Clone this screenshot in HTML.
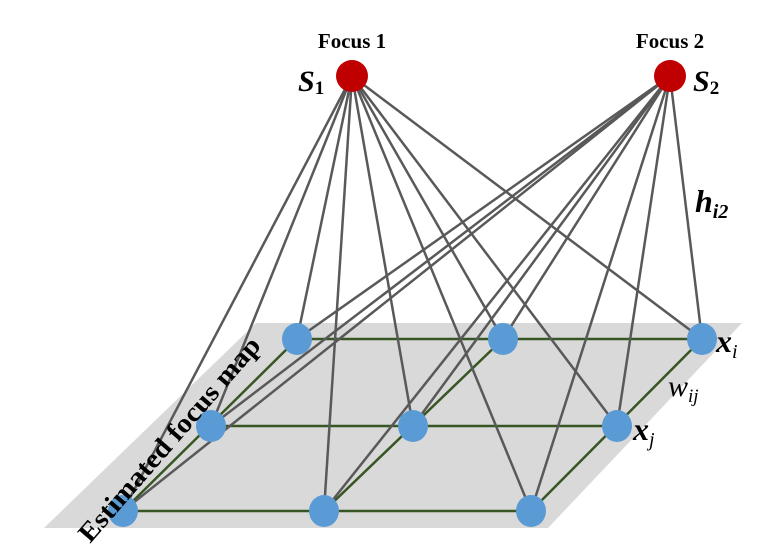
<!DOCTYPE html>
<html><head><meta charset="utf-8"><style>
body{margin:0;background:#fff;}
text{font-family:"Liberation Serif",serif;fill:#000;}
</style></head><body>
<svg width="769" height="552" viewBox="0 0 769 552">
<polygon points="44,528 548,528 742,323 256,323" fill="#d9d9d9"/>
<g id="grid" stroke="#375623" stroke-width="2.5"></g>
<g id="edges" stroke="#595959" stroke-width="2.5"></g>
<g id="nodes"></g>
<text x="0" y="0" font-size="27" font-weight="bold" textLength="262" lengthAdjust="spacingAndGlyphs" transform="translate(90,544) rotate(-49)">Estimated focus map</text>
<text x="352" y="48" font-size="21" font-weight="bold" text-anchor="middle">Focus 1</text>
<text x="670" y="48" font-size="21" font-weight="bold" text-anchor="middle">Focus 2</text>
<text x="298" y="91" font-size="30" font-weight="bold" font-style="italic">S<tspan font-size="19" font-style="normal" dy="3">1</tspan></text>
<text x="693" y="91" font-size="30" font-weight="bold" font-style="italic">S<tspan font-size="19" font-style="normal" dy="3">2</tspan></text>
<text x="695" y="212" font-size="32" font-weight="bold" font-style="italic">h<tspan font-size="20" dy="6">i2</tspan></text>
<text x="716" y="352" font-size="32" font-weight="bold" font-style="italic">x<tspan font-size="20" font-weight="normal" dy="6">i</tspan></text>
<text x="633" y="440" font-size="32" font-weight="bold" font-style="italic">x<tspan font-size="20" font-weight="normal" dy="6">j</tspan></text>
<text x="668" y="396" font-size="30" font-style="italic">w<tspan font-size="19" dy="6">ij</tspan></text>
</svg>
<script>
const rowY=[339,426,511];
const rowX=[[297,503,702],[211,413,617],[123,324,531]];
const foci=[[352,76],[670,76]];
const NS='http://www.w3.org/2000/svg';
const grid=document.getElementById('grid'),edges=document.getElementById('edges'),nodes=document.getElementById('nodes');
function ln(g,x1,y1,x2,y2,name){const l=document.createElementNS(NS,'line');l.setAttribute('x1',x1);l.setAttribute('y1',y1);l.setAttribute('x2',x2);l.setAttribute('y2',y2);


g.appendChild(l);}
for(let r=0;r<3;r++){ln(grid,rowX[r][0],rowY[r],rowX[r][2],rowY[r],'grid-row-line');}
for(let c=0;c<3;c++){ln(grid,rowX[0][c],rowY[0],rowX[2][c],rowY[2],'grid-column-line');}
foci.forEach(f=>{for(let r=0;r<3;r++)for(let c=0;c<3;c++)ln(edges,f[0],f[1],rowX[r][c],rowY[r],'focus-edge');});
for(let r=0;r<3;r++)for(let c=0;c<3;c++){const e=document.createElementNS(NS,'ellipse');e.setAttribute('cx',rowX[r][c]);e.setAttribute('cy',rowY[r]);e.setAttribute('rx',15);e.setAttribute('ry',16);e.setAttribute('fill','#5b9bd5');


nodes.appendChild(e);}
foci.forEach(f=>{const c=document.createElementNS(NS,'circle');c.setAttribute('cx',f[0]);c.setAttribute('cy',f[1]);c.setAttribute('r',16);c.setAttribute('fill','#c00000');


nodes.appendChild(c);});
</script>
</body></html>
